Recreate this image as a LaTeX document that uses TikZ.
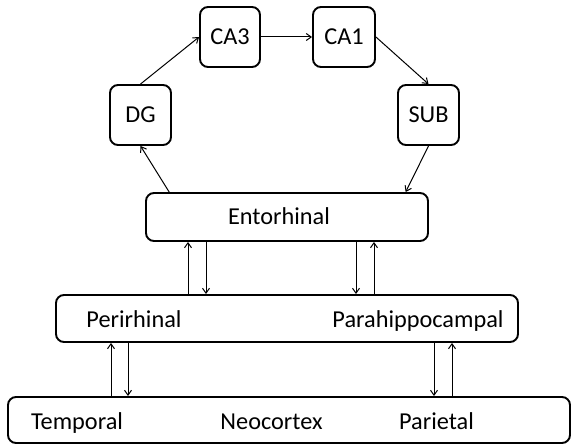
\documentclass[tikz,border=0pt]{standalone}
\usepackage{fontspec}
\setmainfont{Carlito}
\usetikzlibrary{arrows.meta,calc}
\begin{document}
\begin{tikzpicture}[x=1pt,y=-1pt,
  font=\fontsize{24.3}{28}\selectfont,
  box/.style={draw,line width=1.9pt,rounded corners=8pt,inner sep=0pt},
  label/.style={inner sep=0pt,anchor=base},
  arr/.style={line width=1pt,-{Straight Barb[length=5pt,width=7pt]}}]
  \useasboundingbox (0,0) rectangle (571,444);

  % hippocampal loop
  \node[box,minimum width=61pt,minimum height=60pt] (dg)  at (140.5,115) {DG};
  \node[box,minimum width=60pt,minimum height=60pt] (ca3) at (230,37) {CA3};
  \node[box,minimum width=62pt,minimum height=60pt] (ca1) at (344,37) {CA1};
  \node[box,minimum width=61pt,minimum height=60pt] (sub) at (428.5,115) {SUB};

  % cortical layers
  \node[box,minimum width=282pt,minimum height=48pt] (ent) at (287,217) {};
  \node[label] (entlab) at (279,224) {Entorhinal};
  \node[box,minimum width=462pt,minimum height=47pt] (mid) at (287,318.5) {};
  \node[label] (peri) at (134,327) {Perirhinal};
  \node[label] (para) at (418,327) {Parahippocampal};
  \node[box,minimum width=562pt,minimum height=46pt] (bot) at (289,420) {};
  \node[label] (temp) at (77,429) {Temporal};
  \node[label] (neo)  at (271.5,429) {Neocortex};
  \node[label] (pari) at (436.5,429) {Parietal};

  % loop connectors
  \draw[arr] (dg.north) -- (ca3.west);
  \draw[arr] (ca3.east) -- (ca1.west);
  \draw[arr] (ca1.east) -- (sub.north);
  \draw[arr] (sub.south) -- ($(ent.north west)!0.918!(ent.north east)$);
  \draw[arr] ($(ent.north west)!0.085!(ent.north east)$) -- (dg.south);

  % entorhinal <-> perirhinal / parahippocampal
  \draw[arr] (mid.north -| 188,0) -- (ent.south -| 188,0);
  \draw[arr] (ent.south -| 206,0) -- (mid.north -| 206,0);
  \draw[arr] (ent.south -| 356,0) -- (mid.north -| 356,0);
  \draw[arr] (mid.north -| 374,0) -- (ent.south -| 374,0);

  % perirhinal / parahippocampal <-> neocortex
  \draw[arr] (bot.north -| 111,0) -- (mid.south -| 111,0);
  \draw[arr] (mid.south -| 128,0) -- (bot.north -| 128,0);
  \draw[arr] (mid.south -| 434,0) -- (bot.north -| 434,0);
  \draw[arr] (bot.north -| 452,0) -- (mid.south -| 452,0);
\end{tikzpicture}
\end{document}
